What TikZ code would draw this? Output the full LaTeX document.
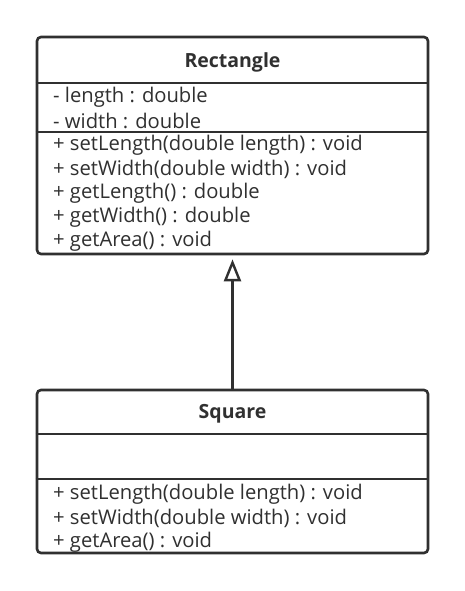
\documentclass[tikz,border=0pt]{standalone}
\usepackage{fontspec}
\setmainfont{Open Sans}
\usetikzlibrary{arrows.meta}
\definecolor{ink}{HTML}{303030}
\begin{document}
\begin{tikzpicture}[x=1pt,y=-1pt,
  classbox/.style={draw=ink, line width=2.6pt, rounded corners=4pt, fill=white, inner sep=0pt},
  sepline/.style={draw=ink, line width=2pt},
  title/.style={font=\fontsize{19.5}{22}\selectfont\bfseries, text=ink, inner sep=0pt},
  member/.style={font=\fontsize{20.2}{22}\selectfont, text=ink, anchor=west, inner sep=0pt},
  inherit/.style={draw=ink, line width=2.6pt, -{Triangle[open, width=17pt, length=22pt, line width=2.4pt]}}
]
\useasboundingbox (0,0) rectangle (465,591);
% Rectangle class
\node[classbox, minimum width=391pt, minimum height=217pt] (rect) at (232.5,145.5) {};
\node[title] (rtitle) at (232.5,62) {Rectangle};
\draw[sepline] (rect.west |- 0,83) coordinate (rs1a) -- (rect.east |- 0,83) coordinate (rs1b);
\draw[sepline] (rect.west |- 0,132) coordinate (rs2a) -- (rect.east |- 0,132) coordinate (rs2b);
\node[member] (ra1) at (53,97) {-\ length : double};
\node[member] (ra2) at (53,121) {-\ width : double};
\node[member] (rm1) at (53,145) {+\ setLength(double length) : void};
\node[member] (rm2) at (53,169) {+\ setWidth(double width) : void};
\node[member] (rm3) at (53,193) {+\ getLength() : double};
\node[member] (rm4) at (53,217) {+\ getWidth() : double};
\node[member] (rm5) at (53,241) {+\ getArea() : void};
% Square class
\node[classbox, minimum width=391pt, minimum height=163pt] (sq) at (232.5,471.5) {};
\node[title] (stitle) at (232.5,414) {Square};
\draw[sepline] (sq.west |- 0,434) coordinate (ss1a) -- (sq.east |- 0,434) coordinate (ss1b);
\draw[sepline] (sq.west |- 0,479) coordinate (ss2a) -- (sq.east |- 0,479) coordinate (ss2b);
\node[member] (sm1) at (53,494) {+\ setLength(double length) : void};
\node[member] (sm2) at (53,518) {+\ setWidth(double width) : void};
\node[member] (sm3) at (53,542) {+\ getArea() : void};
% generalization
\draw[inherit, shorten >=4pt] (sq.north) -- (rect.south);
\end{tikzpicture}
\end{document}
